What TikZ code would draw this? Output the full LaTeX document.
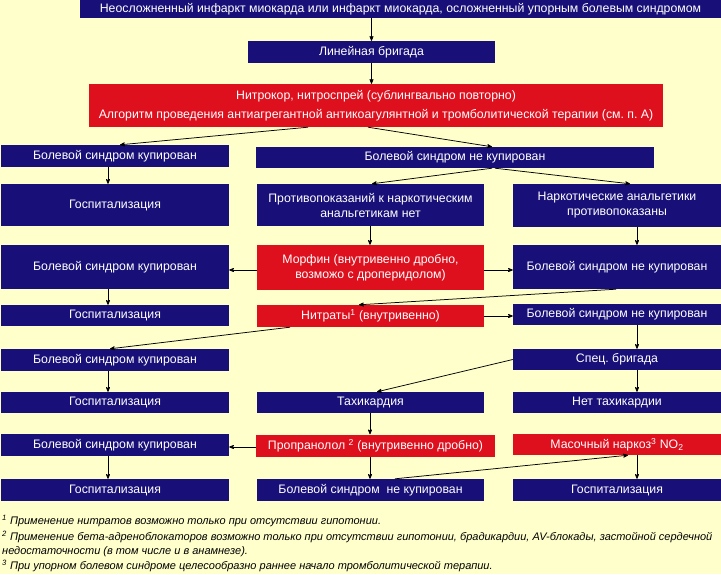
\documentclass[tikz,border=0pt]{standalone}
\usepackage{fontspec}
\setmainfont{Liberation Sans}
\usepackage{tikz}
\usetikzlibrary{arrows}
\definecolor{paper}{RGB}{255,255,204}
\definecolor{navy}{RGB}{24,16,120}
\definecolor{alarm}{RGB}{222,16,30}
\newcommand{\fn}[1]{\textsuperscript{#1}}
\frenchspacing

\begin{document}
\begin{tikzpicture}[x=1pt,y=-1pt,
   box/.style={fill=navy,text=white,inner sep=0pt,align=center,
               font=\fontsize{12.3}{15}\selectfont},
   drug/.style={box,fill=alarm},
   lcol/.style={minimum width=228pt},
   mcol/.style={minimum width=227pt},
   rcol/.style={minimum width=208pt},
   low/.style={minimum height=22pt},
   high/.style={minimum height=43pt},
   note/.style={anchor=west,inner sep=0pt,font=\fontsize{11}{12}\selectfont\itshape},
   link/.style={->,line width=0.75pt},
   >=stealth']
       \fill[paper] (0,0) rectangle (721,574);
       \useasboundingbox (0,0) rectangle (721,574);
       % main line
       \draw (400.5,  9.0) node[box,minimum width=641pt,minimum height=18pt] (onset)
             {Неосложненный инфаркт миокарда или инфаркт миокарда, осложненный упорным болевым синдромом};
       \draw (371.5, 52.0) node[box,low,minimum width=247pt] (team) {Линейная бригада};
       \draw (376.0,105.5) node[drug,high,minimum width=574pt] (nitro)
             {Нитрокор, нитроспрей (сублингвально повторно)\\[4pt]
              Алгоритм проведения антиагрегантной антикоагулянтной и тромболитической терапии (см. п. А)};
       \draw (115.0,156.0) node[box,low,lcol] (relief1) {Болевой синдром купирован};
       \draw (455.0,157.5) node[box,minimum height=21pt,minimum width=398pt] (pain1) {Болевой синдром не купирован};
       % left column
       \draw (115.0,205.0) node[box,lcol,minimum height=42pt] (hosp1) {Госпитализация};
       \draw (115.0,267.0) node[box,lcol,minimum height=44pt] (relief2) {Болевой синдром купирован};
       \draw (115.0,315.5) node[box,lcol,minimum height=21pt] (hosp2) {Госпитализация};
       \draw (115.0,360.0) node[box,lcol,low] (relief3) {Болевой синдром купирован};
       \draw (115.0,402.5) node[box,lcol,minimum height=21pt] (hosp3) {Госпитализация};
       \draw (115.0,445.0) node[box,lcol,low] (relief4) {Болевой синдром купирован};
       \draw (115.0,490.0) node[box,lcol,low] (hosp4) {Госпитализация};
       % middle column
       \draw (370.5,205.0) node[box,mcol,minimum height=42pt] (allowed)
             {Противопоказаний к наркотическим\\анальгетикам нет};
       \draw (370.5,267.5) node[drug,mcol,minimum height=45pt] (morphine)
             {Морфин (внутривенно дробно,\\возможо с дроперидолом)};
       \draw (370.5,316.0) node[drug,mcol,low] (nitrates) {Нитраты\fn{1} (внутривенно)};
       \draw (370.5,402.5) node[box,mcol,minimum height=21pt] (tachy) {Тахикардия};
       \draw (375.5,445.5) node[drug,low,minimum width=239pt] (propr)
             {Пропранолол \fn{2} (внутривенно дробно)};
       \draw (370.5,490.0) node[box,mcol,low] (pain4) {Болевой синдром \ не купирован};
       % right column
       \draw (617.0,205.5) node[box,rcol,high] (banned)
             {Наркотические анальгетики\\противопоказаны};
       \draw (617.0,267.0) node[box,rcol,minimum height=44pt] (pain2) {Болевой синдром не купирован};
       \draw (617.0,314.5) node[box,rcol,minimum height=21pt] (pain3) {Болевой синдром не купирован};
       \draw (617.0,359.5) node[box,rcol,minimum height=21pt] (special) {Спец. бригада};
       \draw (617.0,402.5) node[box,rcol,minimum height=21pt] (notachy) {Нет тахикардии};
       \draw (617.0,444.5) node[drug,rcol,minimum height=21pt] (mask) {Масочный наркоз\fn{3} NO\textsubscript{2}};
       \draw (617.0,490.0) node[box,rcol,low] (hosp5) {Госпитализация};
       % arrows
       \draw[link] (onset.south -| team.north) -- (team.north);
       \draw[link] (team) -- (team.south |- nitro.north);
       \draw[link] (nitro.south -| 308,0) -- (relief1.north -| 120,0);
       \draw[link] (nitro.south -| 368,0) -- (pain1.north -| 492,0);
       \draw[link] (pain1.south -| 492,0) -- (allowed.north -| 372,0);
       \draw[link] (pain1.south -| 495,0) -- (banned.north -| 630,0);
       \draw[link] (relief1.south -| 108,0) -- (hosp1.north -| 108,0);
       \draw[link] (allowed.south -| 370,0) -- (morphine.north -| 370,0);
       \draw[link] (banned.south -| 637,0) -- (pain2.north -| 637,0);
       \draw[link] (morphine.west |- 0,270) -- (relief2.east |- 0,270);
       \draw[link] (morphine.east |- 0,270) -- (pain2.west |- 0,270);
       \draw[link] (relief2.south -| 108,0) -- (hosp2.north -| 108,0);
       \draw[link] (pain2.south -| 616,0) -- (nitrates.north -| 359,0);
       \draw[link] (nitrates.east |- 0,316) -- (pain3.west |- 0,316);
       \draw[link] (nitrates.south -| 290,0) -- (relief3.north -| 110,0);
       \draw[link] (pain3.south -| 637,0) -- (special.north -| 637,0);
       \draw[link] (relief3.south -| 108,0) -- (hosp3.north -| 108,0);
       \draw[link] (special.west) -- (tachy.north -| 377,0);
       \draw[link] (special.south -| 637,0) -- (notachy.north -| 637,0);
       \draw[link] (tachy.south -| 370,0) -- (propr.north -| 370,0);
       \draw[link] (propr.west |- 0,447) -- (relief4.east |- 0,447);
       \draw[link] (relief4.south -| 108,0) -- (hosp4.north -| 108,0);
       \draw[link] (propr.south -| 370,0) -- (pain4.north -| 370,0);
       \draw[link] (pain4.north -| 395,0) -- (mask.south -| 628,0);
       \draw[link] (mask.south -| 637,0) -- (hosp5.north -| 637,0);
       % footnotes
       \draw (2,521) node[note] (note1) {\fn{1} Применение нитратов возможно только при отсутствии гипотонии.};
       \draw (2,537) node[note] (note2) {\fn{2} Применение бета-адреноблокаторов возможно только при отсутствии гипотонии, брадикардии, AV-блокады, застойной сердечной};
       \draw (2,552) node[note] (note2b) {недостаточности (в том числе и в анамнезе).};
       \draw (2,566) node[note] (note3) {\fn{3} При упорном болевом синдроме целесообразно раннее начало тромболитической терапии.};
      \end{tikzpicture}
\end{document}
